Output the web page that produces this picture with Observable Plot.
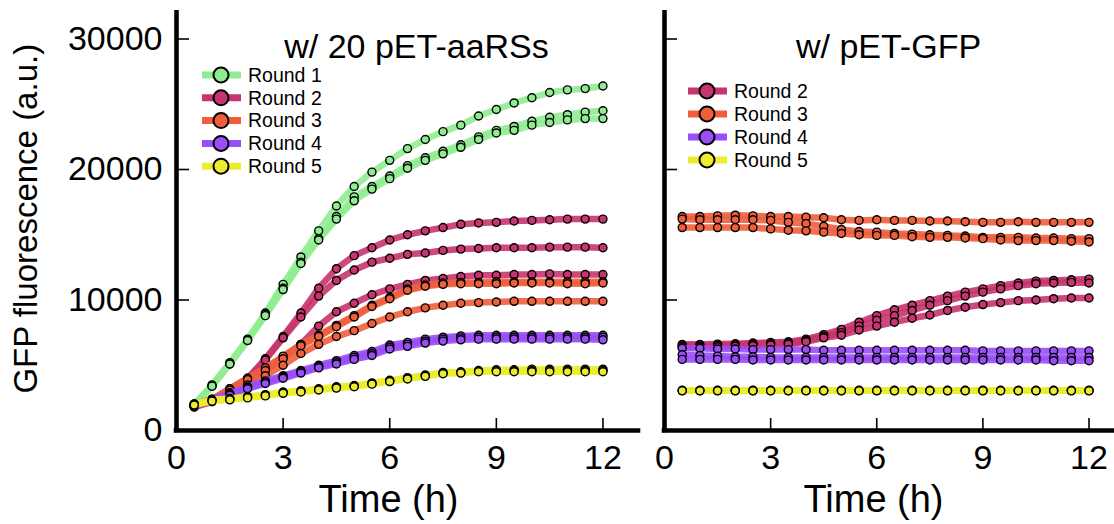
<!DOCTYPE html>
<html><head><meta charset="utf-8">
<script src="https://cdn.jsdelivr.net/npm/d3@7"></script>
<script src="https://cdn.jsdelivr.net/npm/@observablehq/plot@0.6"></script>
<style>
body{margin:0;background:#fff;font-family:"Liberation Sans",Arial,Helvetica,sans-serif;}
#wrap{position:relative;width:1114px;height:524px;overflow:hidden;background:#fff;}
#wrap > *{position:absolute;top:0;}
</style></head><body><div id="wrap"></div>
<script>
// ---- data ----
const times = [0.5,1,1.5,2,2.5,3,3.5,4,4.5,5,5.5,6,6.5,7,7.5,8,8.5,9,9.5,10,10.5,11,11.5,12];
const rounds = ["Round 1","Round 2","Round 3","Round 4","Round 5"];
const roundColors = ["#90ec90","#c8346e","#f05e3c","#9a4ef8","#ecec30"];
const xTicks = [0,3,6,9,12];
const yTicks = [0,10000,20000,30000];
const panelTitles = ["w/ 20 pET-aaRSs","w/ pET-GFP"];
const xLabel = "Time (h)";
const yLabel = "GFP fluorescence (a.u.)";

// left panel: w/ 20 pET-aaRSs
const aars_r1_a = [2000,3500,5200,7000,9000,11200,13300,15300,17200,18700,19800,20700,21600,22300,22900,23400,24100,24600,25100,25500,25900,26100,26200,26400];
const aars_r1_b = [2000,3400,5100,6900,8900,10900,12900,14700,16400,17900,18700,19500,20300,20900,21400,21900,22500,23000,23300,23700,24000,24200,24400,24500];
const aars_r1_c = [1900,3400,5100,6900,8800,10800,12800,14600,16200,17600,18500,19300,20100,20700,21200,21700,22300,22800,23000,23400,23600,23800,23900,23900];
const aars_r2_a = [2000,2400,3200,4000,5500,7200,9000,10900,12400,13400,14000,14600,15000,15300,15550,15800,15900,15950,16050,16100,16150,16200,16200,16200];
const aars_r2_b = [1900,2350,3100,3900,5400,7100,8700,10300,11500,12300,12900,13200,13500,13600,13800,13900,13950,14000,14000,14000,14050,14050,14050,14000];
const aars_r2_c = [1800,2200,2900,3600,4700,5600,6600,8000,9100,9750,10400,10850,11200,11500,11650,11800,11900,11900,11950,11950,12000,11950,11950,11950];
const aars_r3_a = [1900,2400,3200,4000,4800,5700,6600,7300,8050,8800,9600,10200,10850,11150,11300,11350,11350,11400,11400,11400,11400,11400,11400,11400];
const aars_r3_b = [1850,2350,3100,3900,4600,5500,6500,7200,7950,8700,9500,10100,10750,11050,11200,11250,11250,11250,11300,11300,11300,11250,11250,11300];
const aars_r3_c = [1800,2300,2900,3500,4200,5000,5900,6600,7200,7650,8200,8700,9100,9400,9600,9750,9800,9850,9900,9900,9900,9900,9900,9900];
const aars_r4_a = [1950,2350,2850,3350,3800,4200,4600,5000,5350,5750,6050,6550,6750,7000,7150,7250,7300,7300,7300,7300,7300,7300,7300,7300];
const aars_r4_b = [1900,2300,2800,3300,3700,4100,4500,4900,5200,5600,5900,6400,6600,6850,7000,7100,7150,7150,7150,7150,7150,7150,7150,7150];
const aars_r4_c = [1850,2250,2700,3200,3600,4000,4400,4800,5100,5450,5750,6250,6450,6700,6850,6950,7000,7000,7000,7000,7000,7000,7000,6950];
const aars_r5_a = [2050,2350,2450,2600,2750,2950,3050,3200,3350,3450,3650,3850,4050,4250,4450,4500,4600,4650,4650,4700,4700,4700,4700,4700];
const aars_r5_b = [2000,2300,2400,2550,2700,2900,3000,3150,3300,3400,3600,3800,4000,4200,4400,4450,4550,4600,4600,4600,4600,4600,4600,4600];
const aars_r5_c = [1950,2250,2350,2500,2650,2850,2950,3100,3250,3350,3550,3750,3950,4150,4350,4400,4500,4500,4500,4500,4500,4500,4500,4500];

// right panel: w/ pET-GFP
const gfp_r2_a = [6600,6600,6620,6650,6700,6750,6800,7000,7350,7750,8300,8800,9250,9600,9950,10300,10600,10850,11100,11300,11450,11500,11550,11600];
const gfp_r2_b = [6500,6500,6520,6550,6600,6650,6700,6900,7200,7500,8000,8450,8800,9200,9600,9950,10300,10600,10850,11100,11250,11300,11350,11300];
const gfp_r2_c = [6400,6400,6420,6450,6500,6550,6600,6800,7100,7300,7700,8000,8300,8600,8850,9200,9450,9650,9800,9950,10000,10100,10150,10150];
const gfp_r3_a = [16400,16400,16450,16500,16450,16400,16400,16350,16300,16150,16100,16150,16100,16100,16050,16050,16000,15950,15950,16000,15950,15950,15950,15950];
const gfp_r3_b = [16200,16150,16150,16150,16150,16100,15950,15850,15650,15400,15250,15200,15100,15050,15000,14950,14900,14800,14800,14800,14750,14750,14700,14700];
const gfp_r3_c = [15550,15550,15550,15550,15550,15450,15350,15300,15200,15100,15000,14950,14950,14850,14800,14800,14750,14700,14600,14550,14550,14550,14500,14450];
const gfp_r4_a = [6300,6300,6250,6250,6200,6200,6200,6200,6150,6150,6150,6150,6150,6150,6150,6150,6150,6100,6100,6100,6100,6100,6100,6100];
const gfp_r4_b = [5800,5750,5700,5650,5650,5600,5600,5600,5600,5600,5600,5600,5600,5600,5600,5600,5600,5600,5600,5600,5600,5600,5600,5600];
const gfp_r4_c = [5450,5450,5450,5450,5400,5400,5400,5400,5400,5400,5400,5400,5400,5400,5400,5400,5400,5400,5400,5400,5400,5350,5350,5350];
const gfp_r5_a = [3080,3080,3080,3080,3080,3080,3080,3080,3080,3080,3080,3080,3080,3080,3080,3080,3080,3080,3080,3080,3080,3080,3080,3080];
const gfp_r5_b = [3060,3060,3060,3060,3060,3060,3060,3060,3060,3060,3060,3060,3060,3060,3060,3060,3060,3060,3060,3060,3060,3060,3060,3060];
const gfp_r5_c = [3040,3040,3040,3040,3040,3040,3040,3040,3040,3040,3040,3040,3040,3040,3040,3040,3040,3040,3040,3040,3040,3040,3040,3040];

const leftSeries = [
  ["Round 1",aars_r1_a],["Round 1",aars_r1_b],["Round 1",aars_r1_c],
  ["Round 2",aars_r2_a],["Round 2",aars_r2_b],["Round 2",aars_r2_c],
  ["Round 3",aars_r3_a],["Round 3",aars_r3_b],["Round 3",aars_r3_c],
  ["Round 4",aars_r4_a],["Round 4",aars_r4_b],["Round 4",aars_r4_c],
  ["Round 5",aars_r5_a],["Round 5",aars_r5_b],["Round 5",aars_r5_c]
];
const rightSeries = [
  ["Round 2",gfp_r2_a],["Round 2",gfp_r2_b],["Round 2",gfp_r2_c],
  ["Round 3",gfp_r3_a],["Round 3",gfp_r3_b],["Round 3",gfp_r3_c],
  ["Round 4",gfp_r4_a],["Round 4",gfp_r4_b],["Round 4",gfp_r4_c],
  ["Round 5",gfp_r5_a],["Round 5",gfp_r5_b],["Round 5",gfp_r5_c]
];

function toRows(series){
  return series.flatMap(([round, vals], k) => vals.map((v,i) => ({round, id:k, t:times[i], v})));
}

const FONT = "Liberation Sans, Arial, Helvetica, sans-serif";
const H = 524, MT = 12.4, MB = 94;

function panel({series, width, marginLeft, marginRight, xDomain, showYLabels, title, titleDx, xLabelDx}){
  const rows = toRows(series);
  const frameW = width - marginLeft - marginRight;
  const frameH = H - MT - MB;
  const present = rounds.filter(r => rows.some(d => d.round === r));
  const marks = [];
  for (const r of present){
    const sub = rows.filter(d => d.round === r);
    marks.push(Plot.line(sub, {x:"t", y:"v", z:"id", stroke:"round", strokeWidth:6.5, strokeOpacity:0.9, strokeLinejoin:"round"}));
    marks.push(Plot.dot(sub, {x:"t", y:"v", r:4, fill:"round", stroke:"black", strokeWidth:1.4}));
  }
  // ticks (inward)
  marks.push(Plot.tickY(yTicks.filter(d => d > 0), {y:d=>d, stroke:"black", strokeWidth:1.6, insetRight: frameW - 13}));
  marks.push(Plot.tickX(xTicks.filter(d => d > 0), {x:d=>d, stroke:"black", strokeWidth:1.6, insetTop: frameH - 12}));
  // axis lines
  marks.push(Plot.ruleX([0], {stroke:"black", strokeWidth:4.6, strokeLinecap:"square"}));
  marks.push(Plot.ruleY([0], {stroke:"black", strokeWidth:4.6, strokeLinecap:"square"}));
  // tick labels
  marks.push(Plot.axisX({ticks:xTicks, tickSize:0, tickPadding:14, fontSize:34, tickFormat:d3.format("d"), label:null}));
  if (showYLabels){
    marks.push(Plot.axisY({ticks:yTicks, tickSize:0, tickPadding:14, fontSize:34, tickFormat:d3.format("d"), label:null}));
    marks.push(Plot.text([yLabel], {frameAnchor:"left", textAnchor:"middle", rotate:-90, dx:-150, dy:-3, fontSize:33}));
  } else {
    marks.push(Plot.axisY({ticks:[], label:null}));
  }
  marks.push(Plot.text([title], {frameAnchor:"top", textAnchor:"middle", dx:titleDx, dy:21, fontSize:34}));
  marks.push(Plot.text([xLabel], {frameAnchor:"bottom", textAnchor:"middle", dx:xLabelDx, dy:81, fontSize:38}));
  return Plot.plot({
    width, height:H, marginLeft, marginRight, marginTop:MT, marginBottom:MB,
    x:{domain:xDomain},
    y:{domain:[0,32000]},
    color:{type:"ordinal", domain:rounds, range:roundColors},
    style:{fontFamily:FONT, background:"transparent", color:"black", overflow:"visible"},
    marks
  });
}

const wrap = document.getElementById("wrap");
const left = panel({series:leftSeries, width:640, marginLeft:176, marginRight:2, xDomain:[0,13], showYLabels:true, title:panelTitles[0], titleDx:9, xLabelDx:-19});
left.style.left = "0px";
wrap.appendChild(left);
const right = panel({series:rightSeries, width:474, marginLeft:24, marginRight:0, xDomain:[0,12.72], showYLabels:false, title:panelTitles[1], titleDx:-1, xLabelDx:-16});
right.style.left = "640px";
wrap.appendChild(right);

// legends
function legend(items, x0, y0, step){
  const svg = d3.create("svg").attr("width",1114).attr("height",524).style("left","0px").style("pointer-events","none");
  items.forEach((r,i) => {
    const c = roundColors[rounds.indexOf(r)];
    const y = y0 + i*step;
    const g = svg.append("g");
    g.append("line").attr("x1",x0).attr("x2",x0+39).attr("y1",y).attr("y2",y).attr("stroke",c).attr("stroke-width",7);
    g.append("circle").attr("cx",x0+19).attr("cy",y).attr("r",7.5).attr("fill",c).attr("stroke","black").attr("stroke-width",2);
    g.append("text").attr("x",x0+46).attr("y",y).attr("dy","0.35em").attr("font-family",FONT).attr("font-size",19.5).text(r);
  });
  return svg.node();
}
wrap.appendChild(legend(rounds, 202, 75, 22.8));
wrap.appendChild(legend(rounds.slice(1), 688, 91, 23));
</script>
</body></html>
